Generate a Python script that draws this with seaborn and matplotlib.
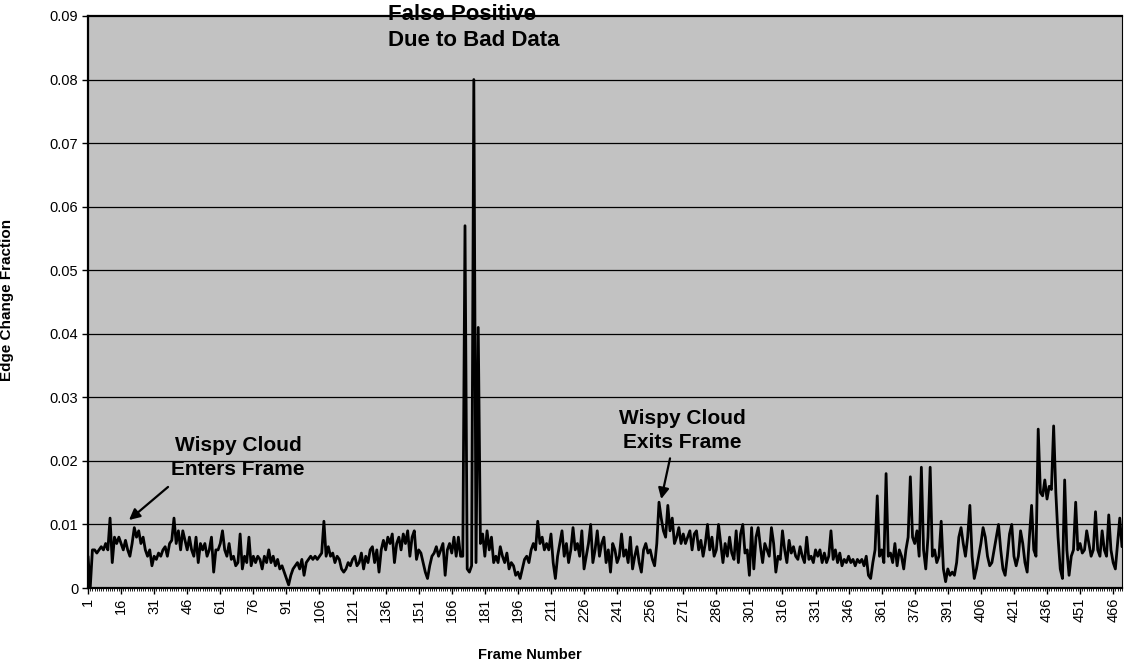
import numpy as np
import pandas as pd
import matplotlib
matplotlib.use("Agg")
import matplotlib.pyplot as plt
import seaborn as sns

# edge change fraction per frame (frames 1..470)
edge_change = [
    0.0050, 0.0000, 0.0060, 0.0060, 0.0055, 0.0060, 0.0065, 0.0060, 0.0070, 0.0060,
    0.0110, 0.0040, 0.0080, 0.0070, 0.0080, 0.0070, 0.0060, 0.0075, 0.0060, 0.0050,
    0.0070, 0.0095, 0.0080, 0.0090, 0.0070, 0.0080, 0.0060, 0.0050, 0.0060, 0.0035,
    0.0050, 0.0045, 0.0055, 0.0050, 0.0060, 0.0065, 0.0050, 0.0070, 0.0075, 0.0110,
    0.0070, 0.0090, 0.0060, 0.0090, 0.0075, 0.0060, 0.0080, 0.0060, 0.0050, 0.0080,
    0.0040, 0.0070, 0.0060, 0.0070, 0.0050, 0.0060, 0.0080, 0.0025, 0.0060, 0.0060,
    0.0070, 0.0090, 0.0060, 0.0050, 0.0070, 0.0045, 0.0050, 0.0035, 0.0040, 0.0085,
    0.0030, 0.0050, 0.0040, 0.0080, 0.0035, 0.0050, 0.0040, 0.0050, 0.0045, 0.0030,
    0.0050, 0.0040, 0.0060, 0.0040, 0.0050, 0.0035, 0.0045, 0.0030, 0.0035, 0.0025,
    0.0015, 0.0005, 0.0020, 0.0030, 0.0035, 0.0040, 0.0030, 0.0045, 0.0020, 0.0040,
    0.0045, 0.0050, 0.0045, 0.0050, 0.0045, 0.0050, 0.0055, 0.0105, 0.0050, 0.0065,
    0.0050, 0.0055, 0.0040, 0.0050, 0.0045, 0.0030, 0.0025, 0.0030, 0.0040, 0.0035,
    0.0045, 0.0050, 0.0035, 0.0040, 0.0055, 0.0030, 0.0050, 0.0040, 0.0060, 0.0065,
    0.0040, 0.0060, 0.0025, 0.0060, 0.0075, 0.0060, 0.0080, 0.0070, 0.0085, 0.0040,
    0.0070, 0.0080, 0.0060, 0.0085, 0.0070, 0.0090, 0.0050, 0.0080, 0.0090, 0.0045,
    0.0060, 0.0055, 0.0040, 0.0025, 0.0015, 0.0035, 0.0050, 0.0055, 0.0065, 0.0050,
    0.0060, 0.0070, 0.0020, 0.0060, 0.0070, 0.0055, 0.0080, 0.0050, 0.0080, 0.0050,
    0.0050, 0.0570, 0.0030, 0.0025, 0.0035, 0.0800, 0.0040, 0.0410, 0.0070, 0.0085,
    0.0050, 0.0090, 0.0060, 0.0080, 0.0040, 0.0050, 0.0040, 0.0065, 0.0050, 0.0040,
    0.0055, 0.0030, 0.0040, 0.0035, 0.0020, 0.0025, 0.0015, 0.0030, 0.0045, 0.0050,
    0.0040, 0.0060, 0.0070, 0.0060, 0.0105, 0.0070, 0.0080, 0.0060, 0.0070, 0.0060,
    0.0085, 0.0040, 0.0015, 0.0050, 0.0070, 0.0090, 0.0050, 0.0070, 0.0040, 0.0060,
    0.0095, 0.0060, 0.0070, 0.0050, 0.0090, 0.0030, 0.0050, 0.0070, 0.0100, 0.0040,
    0.0060, 0.0090, 0.0050, 0.0070, 0.0080, 0.0040, 0.0060, 0.0025, 0.0070, 0.0060,
    0.0040, 0.0050, 0.0085, 0.0050, 0.0060, 0.0040, 0.0080, 0.0030, 0.0050, 0.0065,
    0.0040, 0.0025, 0.0060, 0.0070, 0.0055, 0.0060, 0.0045, 0.0035, 0.0070, 0.0135,
    0.0110, 0.0090, 0.0080, 0.0130, 0.0090, 0.0110, 0.0070, 0.0080, 0.0095, 0.0070,
    0.0085, 0.0070, 0.0080, 0.0090, 0.0060, 0.0085, 0.0090, 0.0060, 0.0075, 0.0050,
    0.0070, 0.0100, 0.0060, 0.0080, 0.0050, 0.0060, 0.0100, 0.0070, 0.0040, 0.0070,
    0.0050, 0.0080, 0.0055, 0.0045, 0.0090, 0.0040, 0.0085, 0.0100, 0.0055, 0.0060,
    0.0020, 0.0095, 0.0030, 0.0080, 0.0095, 0.0065, 0.0040, 0.0070, 0.0060, 0.0050,
    0.0095, 0.0070, 0.0025, 0.0050, 0.0045, 0.0090, 0.0060, 0.0040, 0.0075, 0.0055,
    0.0065, 0.0050, 0.0045, 0.0065, 0.0050, 0.0040, 0.0080, 0.0045, 0.0050, 0.0040,
    0.0060, 0.0050, 0.0060, 0.0040, 0.0055, 0.0040, 0.0050, 0.0090, 0.0045, 0.0060,
    0.0040, 0.0055, 0.0035, 0.0045, 0.0040, 0.0050, 0.0040, 0.0045, 0.0035, 0.0045,
    0.0040, 0.0045, 0.0035, 0.0050, 0.0020, 0.0015, 0.0040, 0.0060, 0.0145, 0.0050,
    0.0060, 0.0040, 0.0180, 0.0050, 0.0055, 0.0040, 0.0070, 0.0035, 0.0060, 0.0050,
    0.0030, 0.0060, 0.0080, 0.0175, 0.0080, 0.0070, 0.0090, 0.0050, 0.0190, 0.0060,
    0.0030, 0.0080, 0.0190, 0.0050, 0.0060, 0.0040, 0.0050, 0.0105, 0.0030, 0.0010,
    0.0030, 0.0020, 0.0025, 0.0020, 0.0040, 0.0080, 0.0095, 0.0070, 0.0050, 0.0080,
    0.0130, 0.0050, 0.0015, 0.0030, 0.0050, 0.0070, 0.0095, 0.0080, 0.0050, 0.0035,
    0.0040, 0.0060, 0.0080, 0.0100, 0.0060, 0.0030, 0.0020, 0.0050, 0.0085, 0.0100,
    0.0050, 0.0035, 0.0050, 0.0090, 0.0070, 0.0040, 0.0025, 0.0080, 0.0130, 0.0060,
    0.0050, 0.0250, 0.0150, 0.0145, 0.0170, 0.0140, 0.0160, 0.0155, 0.0255, 0.0150,
    0.0080, 0.0030, 0.0015, 0.0170, 0.0060, 0.0020, 0.0050, 0.0060, 0.0135, 0.0060,
    0.0070, 0.0055, 0.0060, 0.0090, 0.0070, 0.0050, 0.0060, 0.0120, 0.0060, 0.0050,
    0.0090, 0.0060, 0.0050, 0.0115, 0.0060, 0.0040, 0.0030, 0.0070, 0.0110, 0.0065,
]
frames = list(range(1, len(edge_change) + 1))
tick_frames = frames[::15]
y_ticks = [0, 0.01, 0.02, 0.03, 0.04, 0.05, 0.06, 0.07, 0.08, 0.09]
y_tick_labels = ["0", "0.01", "0.02", "0.03", "0.04", "0.05", "0.06", "0.07", "0.08", "0.09"]

df = pd.DataFrame({"Frame Number": frames, "Edge Change Fraction": edge_change})

sns.set_theme(style="white")
plt.rcParams["font.family"] = ["Liberation Sans", "DejaVu Sans"]
plt.rcParams["text.color"] = "black"
plt.rcParams["axes.labelcolor"] = "black"
plt.rcParams["xtick.color"] = "black"
plt.rcParams["ytick.color"] = "black"

fig = plt.figure(figsize=(11.24, 6.63), dpi=100)
ax = fig.add_axes([0.0783, 0.1131, 0.9199, 0.8628])
ax.set_facecolor("#c2c2c2")

sns.lineplot(data=df, x="Frame Number", y="Edge Change Fraction", ax=ax,
             color="black", linewidth=2.0, zorder=3)

ax.set_xlim(1, 470)
ax.set_ylim(0, 0.09)
ax.set_yticks(y_ticks)
ax.set_yticklabels(y_tick_labels, fontsize=10.5)
ax.set_xticks(tick_frames)
ax.set_xticklabels([str(f) for f in tick_frames], rotation=90, fontsize=10.5)
ax.set_xticks(frames, minor=True)
ax.tick_params(axis="both", which="major", direction="out", length=4, width=1,
               colors="black", pad=3, left=True, bottom=True)
ax.tick_params(axis="x", which="minor", direction="out", length=2, width=0.6, bottom=True)

for yv in y_ticks[1:-1]:
    ax.axhline(yv, color="black", linewidth=0.9, zorder=1)

for side in ["left", "top", "bottom"]:
    ax.spines[side].set_color("black")
    ax.spines[side].set_linewidth(1.6)
ax.spines["right"].set_color("black")
ax.spines["right"].set_linewidth(0.8)

ax.set_xlabel("Frame Number", fontsize=10.5, fontweight="bold")
ax.set_ylabel("Edge Change Fraction", fontsize=11, fontweight="bold")
ax.xaxis.set_label_coords(0.4275, -0.105)
ax.yaxis.set_label_coords(-0.0716, 0.503)

ax.text(137, 0.0919, "False Positive\nDue to Bad Data", fontsize=16, fontweight="bold",
        ha="left", va="top", linespacing=1.3, clip_on=False, zorder=5)
ax.text(69, 0.0205, "Wispy Cloud\nEnters Frame", fontsize=15, fontweight="bold",
        ha="center", va="center", linespacing=1.3, zorder=5)
ax.text(270.5, 0.0248, "Wispy Cloud\nExits Frame", fontsize=15, fontweight="bold",
        ha="center", va="center", linespacing=1.3, zorder=5)

arrow_style = dict(arrowstyle="-|>", color="black", lw=1.6, mutation_scale=16,
                   shrinkA=0, shrinkB=0)
ax.annotate("", xy=(19.6, 0.0107), xytext=(37.3, 0.0159), arrowprops=arrow_style, zorder=5)
ax.annotate("", xy=(261, 0.0140), xytext=(265, 0.0204), arrowprops=arrow_style, zorder=5)

fig.savefig("out.png", dpi=100)
